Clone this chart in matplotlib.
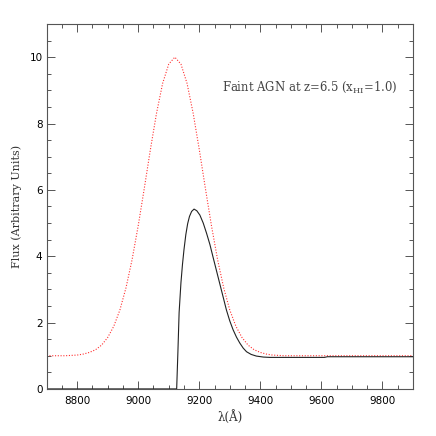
import numpy as np
import matplotlib.pyplot as plt
from matplotlib.ticker import MultipleLocator

# intrinsic (red dotted) spectrum
wave_red = [8700, 8720, 8740, 8760, 8780, 8800, 8820, 8840, 8860, 8880,
            8900, 8920, 8940, 8960, 8980, 9000, 9020, 9040, 9060, 9080,
            9100, 9120, 9140, 9160, 9180, 9200, 9220, 9240, 9260, 9280,
            9300, 9320, 9340, 9360, 9380, 9400, 9420, 9440, 9460, 9480,
            9500, 9600, 9700, 9800, 9900]
flux_red = [1.00, 1.00, 1.00, 1.00, 1.01, 1.02, 1.05, 1.10, 1.18, 1.32,
            1.55, 1.89, 2.38, 3.05, 3.90, 4.92, 6.05, 7.22, 8.31, 9.21,
            9.79, 10.00, 9.79, 9.21, 8.31, 7.22, 6.05, 4.92, 3.90, 3.05,
            2.38, 1.89, 1.55, 1.32, 1.18, 1.10, 1.05, 1.02, 1.01, 1.00,
            1.00, 1.00, 1.00, 1.00, 1.00]

# observed (black) spectrum after IGM absorption
wave_obs = [8700, 9000, 9126, 9130, 9134, 9140, 9145, 9150, 9156, 9162,
            9168, 9175, 9183, 9192, 9202, 9213, 9224, 9235, 9245, 9256,
            9267, 9278, 9289, 9300, 9311, 9322, 9333, 9344, 9355, 9370,
            9387, 9410, 9431, 9500, 9610, 9620, 9700, 9800, 9900]
flux_obs = [0.0, 0.0, 0.0, 1.1, 2.3, 3.2, 3.75, 4.2, 4.65, 4.98,
            5.2, 5.35, 5.42, 5.37, 5.24, 5.0, 4.69, 4.35, 3.98, 3.58,
            3.18, 2.78, 2.38, 2.05, 1.78, 1.56, 1.38, 1.23, 1.12, 1.04,
            0.99, 0.96, 0.95, 0.95, 0.95, 0.97, 0.97, 0.97, 0.97]

plt.rcParams['mathtext.fontset'] = 'dejavuserif'

fig = plt.figure(figsize=(4.36, 4.36), dpi=100)
ax = fig.add_axes([0.107, 0.108, 0.84, 0.837])

ax.plot(wave_red, flux_red, color='#ff3030', lw=0.8, ls=(0, (1, 1.5)))
ax.plot(wave_obs, flux_obs, color='#222222', lw=0.8)

ax.set_xlim(8700, 9900)
ax.set_ylim(0, 11)
ax.xaxis.set_major_locator(MultipleLocator(200))
ax.xaxis.set_minor_locator(MultipleLocator(50))
ax.yaxis.set_major_locator(MultipleLocator(2))
ax.yaxis.set_minor_locator(MultipleLocator(0.5))
ax.tick_params(which='both', direction='in', top=True, right=True,
               color='#555555', width=0.7, labelsize=7.5)
ax.tick_params(which='major', length=6)
ax.tick_params(which='minor', length=3)
ax.tick_params(axis='x', pad=5)
ax.tick_params(axis='y', pad=3)
for s in ax.spines.values():
    s.set_color('#555555')
    s.set_linewidth(0.8)

ax.set_xlabel('λ(Å)', family='DejaVu Serif', fontsize=8.5, labelpad=3,
              color='#333333')
ax.set_ylabel('Flux (Arbitrary Units)', family='DejaVu Serif', fontsize=8,
              labelpad=5, color='#333333')
ax.text(9850, 9.1, r'Faint AGN at z=6.5 (x$_{\rm HI}$=1.0)', family='DejaVu Serif',
        fontsize=8.4, ha='right', va='center', color='#444444')

fig.savefig('out.png', dpi=100)
